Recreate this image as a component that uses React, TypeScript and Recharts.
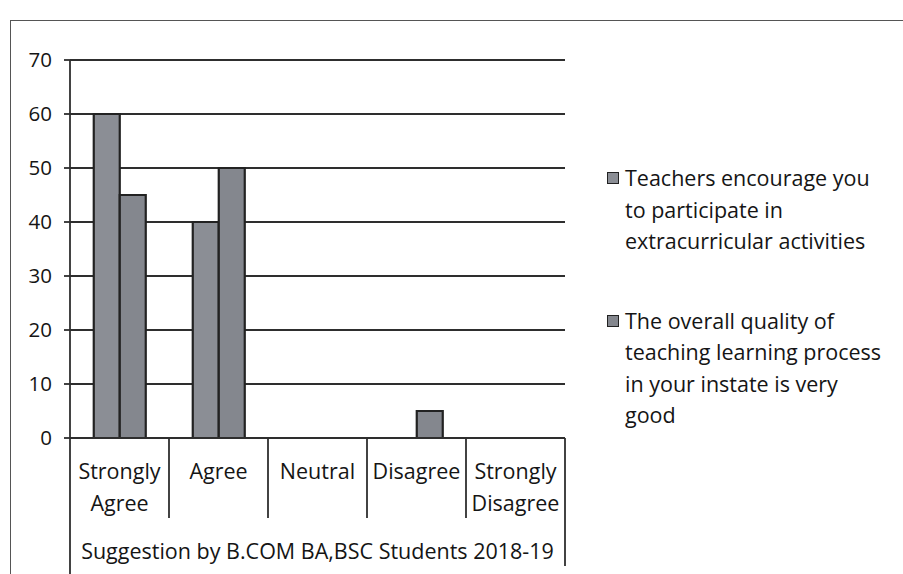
import React from 'react';
import { BarChart, Bar, XAxis, YAxis, CartesianGrid } from 'recharts';

const categories = ['Strongly Agree', 'Agree', 'Neutral', 'Disagree', 'Strongly Disagree'];
const categoryLines = [['Strongly', 'Agree'], ['Agree'], ['Neutral'], ['Disagree'], ['Strongly', 'Disagree']];
const encourageValues = [60, 40, 0, 0, 0];
const qualityValues = [45, 50, 0, 5, 0];
const yTicks = [0, 10, 20, 30, 40, 50, 60, 70];
const seriesNames = [
  'Teachers encourage you to participate in extracurricular activities',
  'The overall quality of teaching learning process in your instate is very good',
];
const legendLines = [
  ['Teachers encourage you', 'to participate in', 'extracurricular activities'],
  ['The overall quality of', 'teaching learning process', 'in your instate is very', 'good'],
];
const groupLabel = 'Suggestion by B.COM BA,BSC Students 2018-19';

const data = categories.map((c, i) => ({
  category: c,
  encourage: encourageValues[i],
  quality: qualityValues[i],
}));

const FONT = "'Open Sans', 'Noto Sans', sans-serif";
const INK = '#151515';
const LINE = '#2e2e2e';
const COLORS = ['#8b8e95', '#84878e'];
const TEXT_SIZE = 21.5;

const CategoryTick = (props: any) => {
  const { x, y, payload } = props;
  const idx = categories.indexOf(payload.value);
  const lines = categoryLines[idx] || [payload.value];
  const half = payload.offset || 49.5;
  return (
    <g>
      {idx > 0 && (
        <line x1={x - half} x2={x - half} y1={y} y2={y + 80} stroke={LINE} strokeWidth={1.8} />
      )}
      {lines.map((t: string, i: number) => (
        <text
          key={i}
          x={x}
          y={y + 32 + i * 32}
          textAnchor="middle"
          dominantBaseline="central"
          fontFamily={FONT}
          fontSize={TEXT_SIZE}
          fill={INK}
        >
          {t}
        </text>
      ))}
    </g>
  );
};

const GroupLabel = (props: any) => {
  const vb = props.viewBox || {};
  const { x = 70, y = 438, width = 495 } = vb;
  return (
    <g>
      <line x1={x} x2={x} y1={y} y2={y + 136} stroke={LINE} strokeWidth={1.8} />
      <line x1={x + width} x2={x + width} y1={y} y2={y + 128} stroke={LINE} strokeWidth={1.8} />
      <text
        x={x + width / 2}
        y={y + 112}
        textAnchor="middle"
        dominantBaseline="central"
        fontFamily={FONT}
        fontSize={TEXT_SIZE}
        fill={INK}
      >
        {groupLabel}
      </text>
    </g>
  );
};

export default function App() {
  return (
    <div style={{ position: 'absolute', left: 0, top: 0, width: 903, height: 574, background: '#fff', overflow: 'hidden' }}>
      <div
        style={{
          position: 'absolute',
          left: 10,
          top: 20,
          width: 900,
          height: 560,
          border: '1.5px solid #555',
          boxSizing: 'border-box',
        }}
      />
      <BarChart
        width={903}
        height={574}
        data={data}
        margin={{ top: 60, right: 338, left: 10, bottom: 0 }}
        barCategoryGap="24%"
        barGap={0}
        style={{ position: 'absolute', left: 0, top: 0 }}
      >
        <CartesianGrid vertical={false} stroke={LINE} strokeWidth={1.8} />
        <XAxis
          dataKey="category"
          height={136}
          interval={0}
          tickLine={false}
          tickSize={0}
          tickMargin={0}
          axisLine={{ stroke: LINE, strokeWidth: 1.8 }}
          tick={<CategoryTick />}
          label={<GroupLabel />}
        />
        <YAxis
          width={60}
          domain={[0, 70]}
          ticks={yTicks}
          interval={0}
          tickSize={6}
          tickMargin={12}
          axisLine={{ stroke: LINE, strokeWidth: 1.8 }}
          tickLine={{ stroke: LINE, strokeWidth: 1.8 }}
          tick={{ fontFamily: FONT, fontSize: 20.5, fill: INK }}
        />
        <Bar dataKey="encourage" name={seriesNames[0]} fill={COLORS[0]} stroke="#222" strokeWidth={2.2} isAnimationActive={false} />
        <Bar dataKey="quality" name={seriesNames[1]} fill={COLORS[1]} stroke="#222" strokeWidth={2.2} isAnimationActive={false} />
      </BarChart>
      <div style={{ position: 'absolute', left: 605, top: 162, width: 298, fontFamily: FONT, fontSize: TEXT_SIZE, color: INK, lineHeight: '31.5px' }}>
        {legendLines.map((lines, i) => (
          <div key={i} style={{ position: 'relative', paddingLeft: 20, marginBottom: i === 0 ? 48 : 0 }}>
            <span
              style={{
                position: 'absolute',
                left: 2,
                top: 10,
                width: 10,
                height: 10,
                background: COLORS[i],
                border: '1.5px solid #222',
              }}
            />
            {lines.map((t, j) => (
              <div key={j} style={{ whiteSpace: 'nowrap' }}>{t}</div>
            ))}
          </div>
        ))}
      </div>
    </div>
  );
}
